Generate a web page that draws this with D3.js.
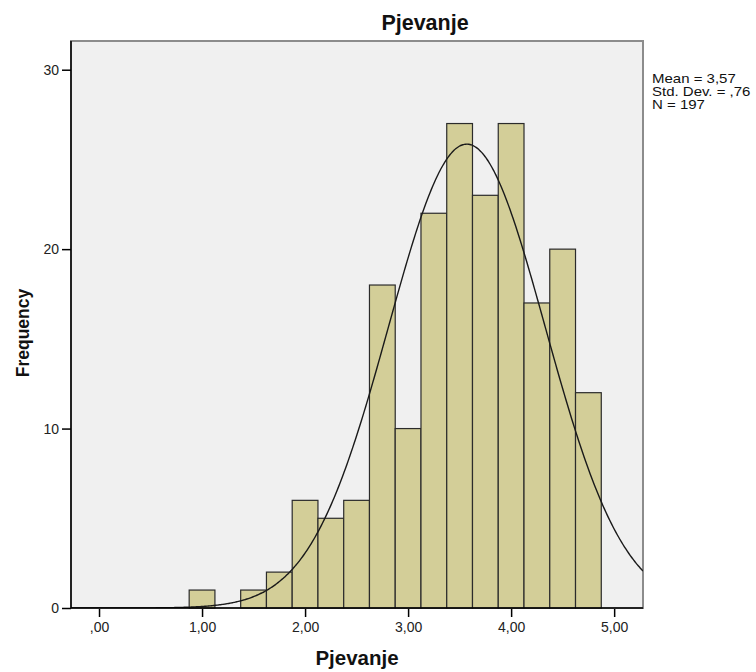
<!DOCTYPE html>
<html><head><meta charset="utf-8">
<script src="https://cdn.jsdelivr.net/npm/d3@7/dist/d3.min.js"></script>
<style>body{margin:0;background:#fff}svg{display:block}text{font-family:"Liberation Sans",Arial,sans-serif}</style>
</head><body>
<svg id="c" width="756" height="672"></svg>
<script>
const binCenters = [1.00,1.25,1.50,1.75,2.00,2.25,2.50,2.75,3.00,3.25,3.50,3.75,4.00,4.25,4.50,4.75];
const counts     = [1,   0,   1,   2,   6,   5,   6,   18,  10,  22,  27,  23,  27,  17,  20,  12];
const binWidth = 0.25;
const xTicks = [0,1,2,3,4,5];
const xTickLabels = [",00","1,00","2,00","3,00","4,00","5,00"];
const yTicks = [0,10,20,30];
const stats = {mean:3.57, sd:0.76, n:197};
const statLabels = ["Mean = 3,57","Std. Dev. = ,76","N = 197"];

const svg = d3.select("#c");
const L=71, R=643, T=41, B=608;
const x = d3.scaleLinear().domain([-0.272, 5.28]).range([L,R]);
const y = d3.scaleLinear().domain([0, 31.6]).range([B,T]);

svg.append("rect").attr("x",L).attr("y",T).attr("width",R-L).attr("height",B-T)
  .attr("fill","#f0f0f0").attr("stroke","#8c8c8c").attr("stroke-width",2);

svg.append("defs").append("clipPath").attr("id","clip").append("rect")
  .attr("x",L).attr("y",T).attr("width",R-L).attr("height",B-T);

svg.append("g").selectAll("rect").data(binCenters.map((c,i)=>({c,v:counts[i]})).filter(d=>d.v>0))
  .join("rect")
  .attr("x",d=>x(d.c-binWidth/2)).attr("width",d=>x(d.c+binWidth/2)-x(d.c-binWidth/2))
  .attr("y",d=>y(d.v)).attr("height",d=>y(0)-y(d.v))
  .attr("fill","#d3ce98").attr("stroke","#2b2b2b").attr("stroke-width",1.2);

// fitted normal curve (from the stated mean, sd and N)
const dom = x.domain();
const pts = d3.range(0,401).map(i=>{
  const v = dom[0] + (dom[1]-dom[0])*i/400;
  const f = stats.n*binWidth/(stats.sd*Math.sqrt(2*Math.PI))*Math.exp(-0.5*((v-stats.mean)/stats.sd)**2);
  return [v,f];
});
svg.append("path").datum(pts).attr("clip-path","url(#clip)")
  .attr("d",d3.line().x(d=>x(d[0])).y(d=>y(d[1])).curve(d3.curveBasis))
  .attr("fill","none").attr("stroke","#1a1a1a").attr("stroke-width",1.4);

// axes
const yAxis = d3.axisLeft(y).tickValues(yTicks).tickSize(9).tickPadding(3).tickFormat(d3.format("d"));
const gy = svg.append("g").attr("transform",`translate(${L},0)`).call(yAxis);
gy.select(".domain").attr("d",`M0,${T}V${B}`).attr("stroke","#000").attr("stroke-width",1.5);
gy.selectAll(".tick line").attr("stroke","#000").attr("stroke-width",1.5);
gy.selectAll("text").attr("font-size",14).attr("fill","#222").attr("font-family","Liberation Sans, Arial, sans-serif");

const xAxis = d3.axisBottom(x).tickValues(xTicks).tickSize(9).tickPadding(5).tickFormat((d,i)=>xTickLabels[i]);
const gx = svg.append("g").attr("transform",`translate(0,${B})`).call(xAxis);
gx.select(".domain").attr("d",`M${L},0H${R}`).attr("stroke","#000").attr("stroke-width",1.5);
gx.selectAll(".tick line").attr("stroke","#000").attr("stroke-width",1.5).attr("y1",1);
gx.selectAll("text").attr("font-size",14).attr("fill","#222").attr("font-family","Liberation Sans, Arial, sans-serif");

svg.append("text").attr("x",425).attr("y",30).attr("text-anchor","middle")
  .attr("font-size",21.5).attr("font-weight","bold").attr("fill","#111").text("Pjevanje");
svg.append("text").attr("x",357).attr("y",665).attr("text-anchor","middle")
  .attr("font-size",20.5).attr("font-weight","bold").attr("fill","#111").text("Pjevanje");
svg.append("text").attr("transform","translate(29,333) rotate(-90)").attr("text-anchor","middle")
  .attr("font-size",17.5).attr("font-weight","bold").attr("fill","#111").text("Frequency");

svg.append("g").selectAll("text").data(statLabels).join("text")
  .attr("transform",(d,i)=>`translate(652,${83+i*13}) scale(1.2,1)`)
  .attr("font-size",12.5).attr("fill","#111").text(d=>d);
</script>
</body></html>
